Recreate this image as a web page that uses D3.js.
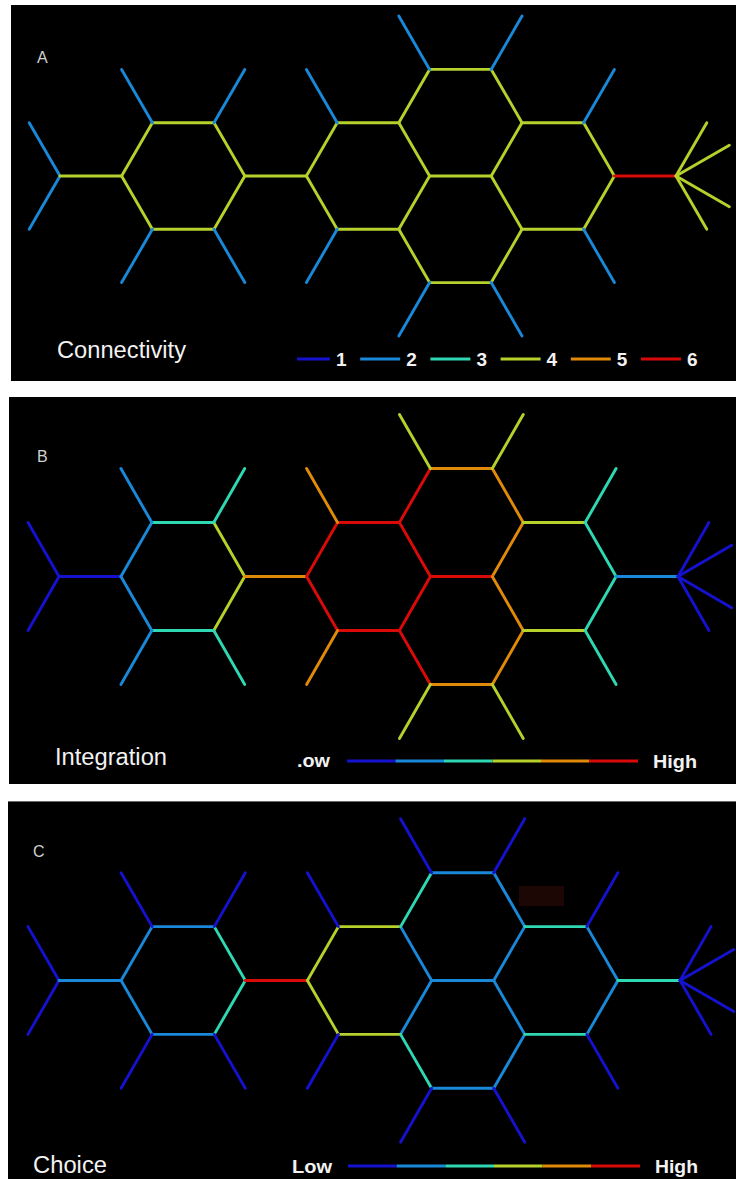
<!DOCTYPE html>
<html>
<head>
<meta charset="utf-8">
<script src="https://cdn.jsdelivr.net/npm/d3@7"></script>
<style>
  html, body { margin: 0; background: #ffffff; }
  svg { display: block; }
  text { font-family: "Liberation Sans", Arial, Helvetica, sans-serif; }
</style>
</head>
<body>
<svg id="fig" width="736" height="1179"></svg>
<script>
// Axial segments of the layout, in lattice units:
// x counts half hexagon sides, y counts half hexagon heights (0 = central row).
const segments = [
  [0, 0, -1, -1], [0, 0, -1, 1], [0, 0, 2, 0],
  // first ring
  [2, 0, 3, -1], [3, -1, 5, -1], [5, -1, 6, 0], [6, 0, 5, 1], [5, 1, 3, 1], [3, 1, 2, 0],
  [3, -1, 2, -2], [5, -1, 6, -2], [3, 1, 2, 2], [5, 1, 6, 2],
  // link between rings
  [6, 0, 8, 0],
  // second ring
  [8, 0, 9, -1], [9, -1, 11, -1], [11, -1, 12, 0], [12, 0, 11, 1], [11, 1, 9, 1], [9, 1, 8, 0],
  [9, -1, 8, -2], [9, 1, 8, 2],
  // upper ring
  [11, -1, 12, -2], [12, -2, 14, -2], [14, -2, 15, -1], [15, -1, 14, 0], [14, 0, 12, 0],
  [12, -2, 11, -3], [14, -2, 15, -3],
  // lower ring
  [11, 1, 12, 2], [12, 2, 14, 2], [14, 2, 15, 1], [15, 1, 14, 0],
  [12, 2, 11, 3], [14, 2, 15, 3],
  // right ring
  [15, -1, 17, -1], [17, -1, 18, 0], [18, 0, 17, 1], [17, 1, 15, 1],
  [17, -1, 18, -2], [17, 1, 18, 2],
  // tail and fan
  [18, 0, 20, 0],
  [20, 0, 21, -1], [20, 0, 21.732, -0.577], [20, 0, 21.732, 0.577], [20, 0, 21, 1]
];

// Connectivity of each segment (number of segments it meets)
const connectivity = [
  2, 2, 4,
  4, 4, 4, 4, 4, 4,
  2, 2, 2, 2,
  4,
  4, 4, 4, 4, 4, 4,
  2, 2,
  4, 4, 4, 4, 4,
  2, 2,
  4, 4, 4, 4,
  2, 2,
  4, 4, 4, 4,
  2, 2,
  6,
  4, 4, 4, 4
];

// Integration class of each segment (1 = low ... 6 = high)
const integration = [
  1, 1, 1,
  2, 3, 4, 4, 3, 2,
  2, 3, 2, 3,
  5,
  6, 6, 6, 6, 6, 6,
  5, 5,
  6, 5, 5, 5, 6,
  4, 4,
  6, 5, 5, 5,
  4, 4,
  4, 3, 3, 4,
  3, 3,
  2,
  1, 1, 1, 1
];

// Choice class of each segment (1 = low ... 6 = high)
const choice = [
  1, 1, 2,
  2, 2, 3, 3, 2, 2,
  1, 1, 1, 1,
  6,
  4, 4, 2, 2, 4, 4,
  1, 1,
  3, 2, 2, 2, 2,
  1, 1,
  3, 2, 2, 2,
  1, 1,
  3, 2, 2, 3,
  1, 1,
  3,
  1, 1, 1, 1
];

const classes = [1, 2, 3, 4, 5, 6];
const classColors = ["#1512cf", "#1a88d8", "#2fd8b2", "#b6d02c", "#e08a0a", "#da0a08"];
const color = d3.scaleOrdinal().domain(classes).range(classColors);

const panels = [
  {
    letter: "A", title: "Connectivity", values: connectivity, legend: "classes",
    box: [11, 5, 725, 376], letterPos: [37, 63],
    titlePos: [57, 358, 129], x0: 60, x20: 676, cy: 176, unit: 53.3,
    legendY: 359
  },
  {
    letter: "B", title: "Integration", values: integration, legend: "ramp",
    box: [9, 397, 727, 387], letterPos: [37, 462],
    titlePos: [55, 765, 112], x0: 59, x20: 678, cy: 576.5, unit: 54,
    legendY: 761, lowText: ".ow", lowPos: [297, 767, 33], barRange: [347, 638], highPos: [653, 768, 44]
  },
  {
    letter: "C", title: "Choice", values: choice, legend: "ramp",
    box: [8, 801, 728, 378], letterPos: [33, 857],
    titlePos: [33, 1173, 74], x0: 59, x20: 680, cy: 980.5, unit: 53.9,
    legendY: 1166, lowText: "Low", lowPos: [292, 1173, 40], barRange: [348, 640], highPos: [655, 1173, 43]
  }
];

const svg = d3.select("#fig");

panels.forEach(p => {
  const g = svg.append("g");
  const [bx, by, bw, bh] = p.box;

  g.append("rect")
    .attr("x", bx).attr("y", by).attr("width", bw).attr("height", bh)
    .attr("fill", "#000");

  const x = d3.scaleLinear().domain([0, 20]).range([p.x0, p.x20]);
  const y = d3.scaleLinear().domain([0, 1]).range([p.cy, p.cy + p.unit]);

  // network segments coloured by class
  g.append("g")
    .selectAll("line")
    .data(segments.map((s, i) => ({ s, v: p.values[i] })))
    .join("line")
    .attr("x1", d => x(d.s[0])).attr("y1", d => y(d.s[1]))
    .attr("x2", d => x(d.s[2])).attr("y2", d => y(d.s[3]))
    .attr("stroke", d => color(d.v))
    .attr("stroke-width", 2.9)
    .attr("stroke-linecap", "round");

  // panel letter
  g.append("text")
    .attr("x", p.letterPos[0]).attr("y", p.letterPos[1])
    .attr("fill", "#d0d0d0").attr("font-size", 16)
    .text(p.letter);

  // measure title
  g.append("text")
    .attr("x", p.titlePos[0]).attr("y", p.titlePos[1])
    .attr("fill", "#f2f2f2").attr("font-size", 23)
    .attr("textLength", p.titlePos[2]).attr("lengthAdjust", "spacingAndGlyphs")
    .text(p.title);

  const lg = g.append("g");
  if (p.legend === "classes") {
    const segEnd = d3.scaleLinear().domain([1, 6]).range([330, 681]);
    lg.selectAll("line")
      .data(classes)
      .join("line")
      .attr("x1", d => Math.max(297, segEnd(d) - 40)).attr("x2", d => segEnd(d))
      .attr("y1", p.legendY).attr("y2", p.legendY)
      .attr("stroke", d => color(d)).attr("stroke-width", 3);
    lg.selectAll("text")
      .data(classes)
      .join("text")
      .attr("x", d => segEnd(d) + 6).attr("y", p.legendY + 7)
      .attr("fill", "#f2f2f2").attr("font-size", 19).attr("font-weight", "bold")
      .text(d => d);
  } else {
    const bar = d3.scaleLinear().domain([0, classes.length]).range(p.barRange);
    lg.selectAll("line")
      .data(classes)
      .join("line")
      .attr("x1", (d, i) => bar(i)).attr("x2", (d, i) => bar(i + 1))
      .attr("y1", p.legendY).attr("y2", p.legendY)
      .attr("stroke", d => color(d)).attr("stroke-width", 3);
    lg.append("text")
      .attr("x", p.lowPos[0]).attr("y", p.lowPos[1])
      .attr("fill", "#f2f2f2").attr("font-size", 19).attr("font-weight", "bold")
      .attr("textLength", p.lowPos[2]).attr("lengthAdjust", "spacingAndGlyphs")
      .text(p.lowText);
    lg.append("text")
      .attr("x", p.highPos[0]).attr("y", p.highPos[1])
      .attr("fill", "#f2f2f2").attr("font-size", 19).attr("font-weight", "bold")
      .attr("textLength", p.highPos[2]).attr("lengthAdjust", "spacingAndGlyphs")
      .text("High");
  }
});

// faint patch in the choice panel and its thin top rule
svg.append("rect")
  .attr("x", 519).attr("y", 886).attr("width", 45).attr("height", 20)
  .attr("fill", "#1c0705");
svg.append("line")
  .attr("x1", 8).attr("x2", 736).attr("y1", 801.5).attr("y2", 801.5)
  .attr("stroke", "#6a6a6a").attr("stroke-width", 1);
</script>
</body>
</html>
